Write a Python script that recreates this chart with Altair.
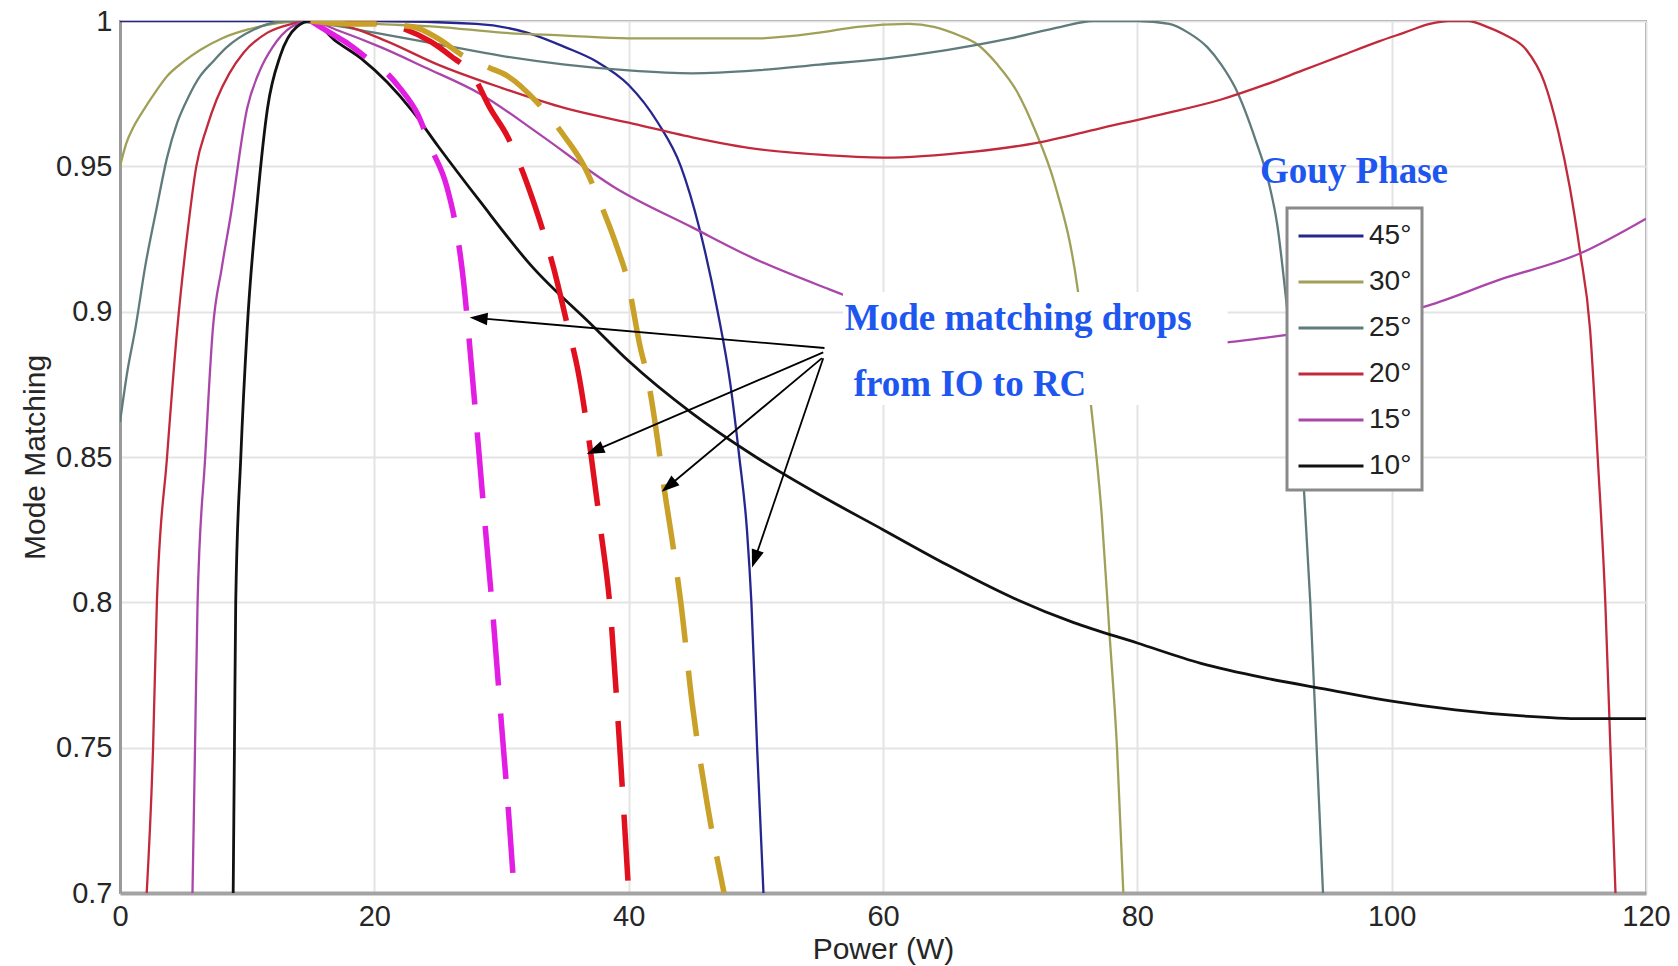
import math
import altair as alt
import pandas as pd

# ---------------- data ----------------
X_DOM = [0, 120]
Y_DOM = [0.7, 1.0]
x_ticks = [0, 20, 40, 60, 80, 100, 120]
y_ticks = [0.7, 0.75, 0.8, 0.85, 0.9, 0.95, 1.0]

series_names = ["45°", "30°", "25°", "20°", "15°", "10°"]
series_colors = ["#262690", "#a0a058", "#5f7b7b", "#c22a3c", "#aa46aa", "#111111"]

s45_x = [0, 10, 20, 28, 32, 35, 37.5, 40, 42.3, 44.1, 45.6, 47.0, 48.0, 48.7, 49.3, 49.65, 50.1, 50.6]
s45_y = [1.0, 1.0, 1.0, 0.999, 0.996, 0.991, 0.986, 0.978, 0.965, 0.950, 0.928, 0.900, 0.875, 0.850, 0.825, 0.800, 0.750, 0.700]

s30_x = [0, 0.5, 1, 1.8, 2.7, 3.7, 5, 6.3, 8, 10, 13, 16, 20, 25, 30, 35, 40, 45, 50, 55, 58, 62, 64, 66,
         67.4, 69, 70.5, 72, 73.5, 75.3, 76.3, 77.2, 77.8, 78.4, 78.9]
s30_y = [0.95, 0.958, 0.963, 0.969, 0.975, 0.981, 0.986, 0.990, 0.994, 0.997, 0.9995, 1.0, 0.999, 0.998,
         0.996, 0.995, 0.994, 0.994, 0.994, 0.996, 0.998, 0.999, 0.998, 0.995, 0.992, 0.985, 0.976, 0.962,
         0.944, 0.908, 0.87, 0.83, 0.79, 0.75, 0.70]

s25_x = [0, 0.6, 1.2, 2.0, 2.9, 3.7, 4.5, 5.4, 6.3, 7.3, 8.4, 10.5, 13, 16, 20, 25, 30, 35, 40, 45, 50, 55,
         60, 65, 70, 74, 76.5, 80, 82.5, 84, 85.5, 86.6, 87.7, 89.3, 90.3, 91.0, 91.8, 92.5, 93.1, 93.6,
         94.1, 94.6]
s25_y = [0.862, 0.88, 0.894, 0.916, 0.936, 0.953, 0.965, 0.974, 0.981, 0.986, 0.991, 0.997, 1.0, 0.999,
         0.996, 0.992, 0.988, 0.985, 0.983, 0.982, 0.983, 0.985, 0.987, 0.990, 0.994, 0.998, 1.0, 1.0, 0.999,
         0.996, 0.991, 0.985, 0.977, 0.959, 0.945, 0.930, 0.900, 0.870, 0.839, 0.80, 0.75, 0.70]

s20_x = [2.1, 2.6, 2.9, 3.7, 4.5, 5.3, 6.0, 6.8, 7.6, 8.6, 9.7, 11.6, 13.5, 15, 18, 21, 25, 30, 35, 40, 45,
         50, 55, 60, 67, 72, 77, 82, 86.6, 90, 93, 96, 99, 101, 103, 104.5, 106, 107.5, 109, 110.6, 112,
         113.1, 114, 114.8, 115.6, 116.2, 116.8, 117.2, 117.6]
s20_y = [0.70, 0.75, 0.80, 0.85, 0.894, 0.927, 0.95, 0.963, 0.973, 0.982, 0.989, 0.996, 0.999, 1.0, 0.998,
         0.993, 0.985, 0.977, 0.970, 0.965, 0.960, 0.956, 0.954, 0.953, 0.955, 0.958, 0.963, 0.968, 0.973,
         0.978, 0.983, 0.988, 0.993, 0.996, 0.999, 1.0, 1.0, 0.998, 0.995, 0.99, 0.979, 0.962, 0.943, 0.921,
         0.894, 0.85, 0.80, 0.75, 0.70]

s15_x = [5.7, 5.9, 6.1, 6.7, 7.3, 8.0, 8.7, 10.0, 11.0, 12.0, 13.5, 15, 17, 20.5, 24, 28.3, 33, 38.8, 45,
         50, 55, 60, 65, 70, 75, 80, 85, 90, 96, 102.8, 108.5, 114.8, 120]
s15_y = [0.70, 0.75, 0.80, 0.85, 0.894, 0.915, 0.933, 0.970, 0.983, 0.991, 0.998, 1.0, 0.997, 0.991, 0.984,
         0.975, 0.961, 0.943, 0.929, 0.918, 0.909, 0.901, 0.896, 0.892, 0.890, 0.889, 0.889, 0.891, 0.895,
         0.902, 0.911, 0.920, 0.932]

s10_x = [8.9, 9.0, 9.1, 9.5, 10.0, 10.8, 11.6, 12.6, 13.9, 15, 17, 19, 21, 23, 25, 28.3, 32.3, 37.2, 40,
         45, 50, 55, 60, 65, 70, 75, 80, 85, 90, 95, 100, 105, 110, 115, 120]
s10_y = [0.70, 0.75, 0.80, 0.85, 0.894, 0.938, 0.970, 0.988, 0.998, 1.0, 0.993, 0.987, 0.979, 0.969, 0.957,
         0.938, 0.916, 0.895, 0.883, 0.865, 0.850, 0.837, 0.825, 0.813, 0.802, 0.793, 0.786, 0.779, 0.774,
         0.770, 0.766, 0.763, 0.761, 0.760, 0.760]

# thick dashed curves (IO to RC)
dm_x = [15, 16.5, 18, 19.5, 21, 22, 23.4, 24.5, 25.7, 26.5, 27.0, 27.4, 28.1, 28.7, 29.3, 30.0, 30.6, 31.0]
dm_y = [1.0, 0.996, 0.992, 0.987, 0.982, 0.977, 0.968, 0.956, 0.943, 0.927, 0.911, 0.893, 0.858, 0.827,
        0.797, 0.758, 0.725, 0.70]
dr_x = [15, 18, 20.5, 22.5, 24.4, 26, 27.8, 29.1, 30.5, 31.5, 32.5, 34.1, 35.2, 36.0, 37.0, 37.8, 38.5,
        39.3, 40.0]
dr_y = [1.0, 1.0, 0.999, 0.997, 0.993, 0.988, 0.981, 0.970, 0.960, 0.950, 0.938, 0.915, 0.895, 0.880,
        0.852, 0.825, 0.80, 0.75, 0.70]
dg_x = [15, 18, 20, 23, 25, 27, 29, 30.5, 32.8, 35, 36.5, 37.8, 39.1, 39.9, 40.9, 41.5, 42.3, 42.7, 43.5,
        44.1, 45.0, 46.2, 47.5]
dg_y = [1.0, 0.999, 0.999, 0.998, 0.994, 0.988, 0.984, 0.981, 0.972, 0.960, 0.950, 0.937, 0.922, 0.911,
        0.888, 0.877, 0.855, 0.842, 0.819, 0.80, 0.765, 0.73, 0.70]
dash_colors = ["#e21ee2", "#e0101e", "#c9a028"]

# annotations
ann_text = ["Mode matching drops", "from IO to RC"]
ann_x = [57.0, 57.7]
ann_y = [0.8937, 0.871]
box_x = [56.85, 87.1]
box_y = [0.9068, 0.8679]
legend_title = "Gouy Phase"
legend_title_x = 89.64
legend_title_y = 0.9443

arrow_tail_x = [55.4, 55.3, 55.2, 55.3]
arrow_tail_y = [0.8875, 0.886, 0.884, 0.884]
arrow_tip_x = [27.5, 36.7, 42.6, 49.7]
arrow_tip_y = [0.898, 0.851, 0.838, 0.812]

# ---------------- layout ----------------
W, H = 1526, 872
PAD = {"left": 120, "top": 21, "right": 32, "bottom": 73}
FONT = "Liberation Sans"
SERIF = "Liberation Serif"
BLUE = "#1e56f0"

xscale = alt.Scale(domain=X_DOM, nice=False, zero=False)
yscale = alt.Scale(domain=Y_DOM, nice=False, zero=False)

xaxis = alt.Axis(values=x_ticks, title="Power (W)", labelFontSize=29, titleFontSize=30,
                 labelFont=FONT, titleFont=FONT, labelColor="#262626", titleColor="#262626",
                 titleFontWeight="normal", grid=True, gridColor="#e4e4e4", gridWidth=2,
                 domainColor="#a3a3a3", domainWidth=4, ticks=False, labelPadding=9,
                 labelFlush=False, labelOverlap=False, titleY=65, titleBaseline="alphabetic")
yaxis = alt.Axis(values=y_ticks, format="~g", title="Mode Matching", labelFontSize=29, titleFontSize=30,
                 labelFont=FONT, titleFont=FONT, labelColor="#262626", titleColor="#262626",
                 titleFontWeight="normal", grid=True, gridColor="#e4e4e4", gridWidth=2,
                 domainColor="#9a9a9a", domainWidth=3, ticks=False, labelPadding=8,
                 labelFlush=False, labelOverlap=False, titleX=-76, titleAngle=270,
                 titleBaseline="alphabetic")


def X(field):
    return alt.X(field, type="quantitative", scale=xscale, axis=xaxis)


def Y(field):
    return alt.Y(field, type="quantitative", scale=yscale, axis=yaxis)


rows = []
for name, xs, ys in zip(series_names, [s45_x, s30_x, s25_x, s20_x, s15_x, s10_x],
                        [s45_y, s30_y, s25_y, s20_y, s15_y, s10_y]):
    for i, (xv, yv) in enumerate(zip(xs, ys)):
        rows.append({"series": name, "x": xv, "y": yv, "i": i,
                     "sw": 2.8 if name == "10°" else 2.3})
df_solid = pd.DataFrame(rows)

legend = alt.Legend(title=None, orient="none", legendX=1167, legendY=187,
                    symbolType="M-2,0H2", symbolSize=1056, symbolStrokeWidth=3,
                    labelFontSize=28, labelFont=FONT, labelColor="#222222",
                    strokeColor="#8a8a8a", fillColor="white", padding=10, rowPadding=14,
                    symbolOffset=16, labelOffset=20)

solid = alt.Chart(df_solid).mark_line(interpolate="monotone", clip=True).encode(
    x=X("x"),
    y=Y("y"),
    color=alt.Color("series:N", scale=alt.Scale(domain=series_names, range=series_colors),
                    legend=legend, sort=series_names),
    strokeWidth=alt.StrokeWidth("sw:Q", scale=None),
    order="i:Q",
)

layers = [solid]
for xs, ys, c in zip([dm_x, dr_x, dg_x], [dm_y, dr_y, dg_y], dash_colors):
    d = pd.DataFrame({"x": xs, "y": ys, "i": list(range(len(xs)))})
    layers.append(
        alt.Chart(d).mark_line(strokeWidth=5.5, strokeDash=[66, 28], color=c,
                               interpolate="monotone", clip=True).encode(
            x=X("x"), y=Y("y"), order="i:Q",
        )
    )

# white box behind annotation text
box_df = pd.DataFrame({"x": [box_x[0]], "x2": [box_x[1]], "y": [box_y[0]], "y2": [box_y[1]]})
layers.append(alt.Chart(box_df).mark_rect(color="white").encode(
    x=X("x"), x2="x2:Q", y=Y("y"), y2="y2:Q"))

# arrows
sx = W / (X_DOM[1] - X_DOM[0])
sy = H / (Y_DOM[1] - Y_DOM[0])
arrow_rows = []
for tx, ty, hx, hy in zip(arrow_tail_x, arrow_tail_y, arrow_tip_x, arrow_tip_y):
    dxp = (hx - tx) * sx
    dyp = -(hy - ty) * sy
    L = math.hypot(dxp, dyp)
    ux, uy = dxp / L, dyp / L
    ang = math.degrees(math.atan2(ux, -uy)) % 360
    cx = hx - ux * 10.5 / sx
    cy = hy + uy * 10.5 / sy
    lx = hx - ux * 8 / sx
    ly = hy + uy * 8 / sy
    arrow_rows.append({"tx": tx, "ty": ty, "lx": lx, "ly": ly, "cx": cx, "cy": cy, "ang": ang})
arrow_df = pd.DataFrame(arrow_rows)

layers.append(alt.Chart(arrow_df).mark_rule(color="black", strokeWidth=1.8).encode(
    x=X("tx"), x2="lx:Q", y=Y("ty"), y2="ly:Q"))
layers.append(alt.Chart(arrow_df).mark_point(shape="M0,-1L0.6,0.7L-0.6,0.7Z", filled=True,
                                             color="black", opacity=1, size=440).encode(
    x=X("cx"), y=Y("cy"), angle=alt.Angle("ang:Q", scale=None)))

# annotation texts
ann_df = pd.DataFrame({"t": ann_text, "x": ann_x, "y": ann_y})
layers.append(alt.Chart(ann_df).mark_text(font=SERIF, fontWeight="bold", fontSize=37, color=BLUE,
                                          align="left", baseline="alphabetic").encode(
    x=X("x"), y=Y("y"), text="t:N"))

lt_df = pd.DataFrame({"t": [legend_title], "x": [legend_title_x], "y": [legend_title_y]})
layers.append(alt.Chart(lt_df).mark_text(font=SERIF, fontWeight="bold", fontSize=37, color=BLUE,
                                         align="left", baseline="alphabetic").encode(
    x=X("x"), y=Y("y"), text="t:N"))

chart = alt.layer(*layers).properties(
    width=W, height=H, padding=PAD, autosize=alt.AutoSizeParams(type="none"),
    background="white",
).configure_view(stroke="#8e8e8e", strokeWidth=2).configure_legend(strokeWidth=3)

chart.save("out.html", embed_options={"renderer": "svg", "actions": False})
